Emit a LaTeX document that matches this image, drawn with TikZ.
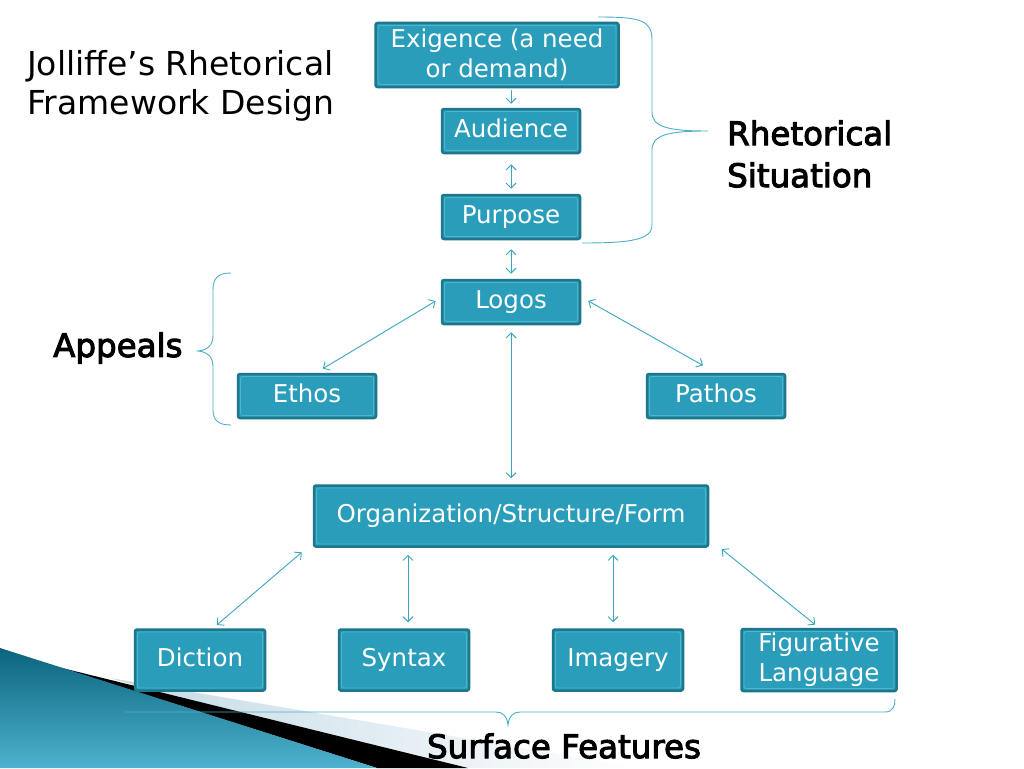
\documentclass[tikz,border=0pt]{standalone}
\usepackage{fontspec}
\setmainfont{DejaVu Sans}
\newfontfamily\heavyfont[FakeBold=3]{DejaVu Sans}
\usetikzlibrary{arrows.meta}
\definecolor{boxfill}{RGB}{42,157,186}
\definecolor{boxborder}{RGB}{28,118,140}
\definecolor{boxinner}{RGB}{80,180,204}
\definecolor{linkcol}{RGB}{60,165,192}
\definecolor{bracecol}{RGB}{75,175,200}
\definecolor{tealdark}{RGB}{10,100,126}
\definecolor{teallight}{RGB}{78,178,206}
\definecolor{palegray}{RGB}{196,218,230}
\begin{document}
\begin{tikzpicture}[x=1pt,y=-1pt,
  box/.style={rectangle, rounded corners=2pt, fill=boxfill, draw=boxborder,
    line width=2.5pt, text=white, font=\fontsize{24.5}{30}\selectfont,
    align=center, inner sep=0pt,
    path picture={\draw[boxinner, line width=0.8pt]
      ([shift={(2.5pt,2.5pt)}]path picture bounding box.south west) rectangle
      ([shift={(-2.5pt,-2.5pt)}]path picture bounding box.north east);}},
  onebox/.style={box, text height=17pt, text depth=5pt},
  smallbox/.style={onebox, minimum width=138pt, minimum height=44pt},
  bigbox/.style={onebox, minimum width=130pt, minimum height=61pt},
  tip/.tip={Straight Barb[length=5pt,width=10pt,line width=0.9pt]},
  link/.style={draw=linkcol, line width=0.9pt, {tip}-{tip}},
  onelink/.style={draw=linkcol, line width=0.9pt, -{tip}},
  brace/.style={draw=bracecol, line width=0.9pt},
  label/.style={text=black, inner sep=0pt},
]
\useasboundingbox (0,0) rectangle (1024,768);
\fill[white] (0,0) rectangle (1024,768);

% decoration bottom left
\shade[left color=palegray, right color=white]
  (110,678) -- (640,768) -- (420,768) -- cycle;
\fill[black] (58,667) -- (468,768) -- (377,768) -- cycle;
\shade[top color=tealdark, bottom color=teallight]
  (0,648) -- (377,768) -- (0,768) -- cycle;

% braces
\draw[brace] (598,17) .. controls (640,17) and (652,20) .. (652,40) -- (652,112)
  .. controls (652,127) and (668,131) .. (708,131)
  .. controls (668,131) and (652,135) .. (652,150) -- (652,225)
  .. controls (652,240) and (630,243) .. (582,243);
\draw[brace] (231,273) .. controls (218,273) and (213,278) .. (213,290) -- (213,335)
  .. controls (213,345) and (208,350) .. (198,351)
  .. controls (208,352) and (213,357) .. (213,367) -- (213,410)
  .. controls (213,420) and (218,425) .. (231,425);
\draw[brace] (125,712) -- (496,712) .. controls (503,712) and (507,716) .. (508,725)
  .. controls (509,716) and (513,712) .. (520,712) -- (885,712)
  .. controls (893,712) and (895,706) .. (895,699);

% boxes
\node[box, minimum width=243pt, minimum height=64pt] (exig) at (497,55) {Exigence (a need\\or demand)};
\node[smallbox] (aud) at (511,131) {Audience};
\node[smallbox] (purp) at (511,217) {Purpose};
\node[smallbox] (logos) at (511,302) {Logos};
\node[smallbox] (ethos) at (307,396) {Ethos};
\node[smallbox] (pathos) at (716,396) {Pathos};
\node[onebox, minimum width=394pt, minimum height=61pt] (org) at (511,516) {Organization/Structure/Form};
\node[bigbox] (diction) at (200,660) {Diction};
\node[bigbox] (syntax) at (404,660) {Syntax};
\node[bigbox] (imagery) at (618,660) {Imagery};
\node[box, minimum width=155pt, minimum height=62pt] (fig) at (819,660) {Figurative\\Language};

% connectors
\draw[onelink, shorten <=2pt, shorten >=4pt] ([xshift=14pt]exig.south) -- (aud.north);
\draw[link, shorten <=10pt, shorten >=5pt] (aud.south) -- (purp.north);
\draw[link, shorten <=9pt, shorten >=5pt] (purp.south) -- (logos.north);
\draw[link, shorten <=6pt, shorten >=8pt] ([yshift=4pt]logos.west) -- ([xshift=9pt]ethos.north);
\draw[link, shorten <=8pt, shorten >=15pt] ([yshift=5pt]logos.east) -- (pathos.north);
\draw[link, shorten <=7pt, shorten >=6pt] (logos.south) -- (org.north);
\draw[link, shorten <=7pt, shorten >=5pt] ([xshift=-204pt]org.south) -- ([xshift=13pt]diction.north);
\draw[link, shorten <=7pt, shorten >=6pt] ([xshift=-103pt]org.south) -- ([xshift=4pt]syntax.north);
\draw[link, shorten <=7pt, shorten >=6pt] ([xshift=102pt]org.south) -- ([xshift=-5pt]imagery.north);
\draw[link, shorten <=7pt, shorten >=5pt] ([shift={(7pt,3pt)}]org.south east) -- (fig.north);

% labels
\node[label, anchor=west, align=left, font=\fontsize{33}{39}\selectfont] (title) at (27,86) {Jolliffe’s Rhetorical\\Framework Design};
\node[label, anchor=west, align=left, font=\heavyfont\fontsize{32.5}{42}\selectfont] (rhet) at (727,154) {Rhetorical\\Situation};
\node[label, anchor=west, font=\heavyfont\fontsize{32.5}{40}\selectfont] (appeals) at (53,348) {Appeals};
\node[label, font=\heavyfont\fontsize{32.5}{40}\selectfont] (surf) at (564,746) {Surface Features};
\end{tikzpicture}
\end{document}
